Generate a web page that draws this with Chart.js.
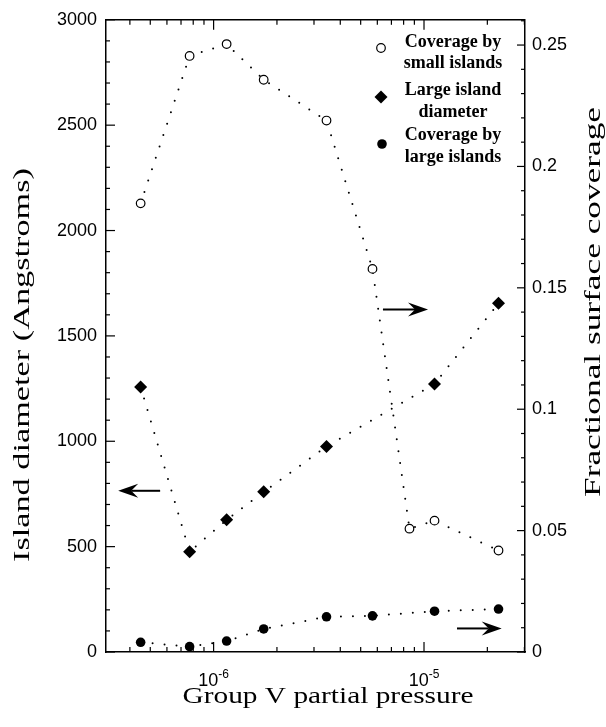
<!DOCTYPE html>
<html>
<head>
<meta charset="utf-8">
<title>Island size and coverage vs group V pressure</title>
<script src="https://cdn.jsdelivr.net/npm/chart.js@4.4.0/dist/chart.umd.min.js"></script>
<style>
  html, body { margin: 0; padding: 0; background: #fff; }
  #wrap { width: 606px; height: 727px; }
</style>
</head>
<body>
<div id="wrap"><canvas id="islandChart" width="606" height="727"></canvas></div>
<script>
// --- data ---
const pressureSmall = [4.50e-7, 7.69e-7, 1.153e-6, 1.73e-6, 3.44e-6, 5.69e-6, 8.53e-6, 1.122e-5, 2.26e-5];
const smallCoverage = [0.1848, 0.2455, 0.2504, 0.2357, 0.2189, 0.1578, 0.0508, 0.0541, 0.0418];

const pressureDiameter = [4.50e-7, 7.69e-7, 1.153e-6, 1.73e-6, 3.44e-6, 1.122e-5, 2.26e-5];
const largeDiameter = [1258, 476, 627, 760, 975, 1272, 1655];

const pressureLarge = [4.50e-7, 7.69e-7, 1.153e-6, 1.73e-6, 3.44e-6, 5.69e-6, 1.122e-5, 2.26e-5];
const largeCoverage = [0.0040, 0.0022, 0.0045, 0.0095, 0.0145, 0.0149, 0.0168, 0.0177];

// axis ranges and ticks
const pressureMin = 3.08e-7;
const pressureMax = 3.02e-5;
const decadeExponents = [-6, -5];
const diameterMax = 3000;
const diameterStep = 500;
const diameterMinor = 100;
const coverageMax = 0.2604;
const coverageStep = 0.05;
const coverageMinor = 0.01;

// arrows pointing at the axis each series belongs to: [x, y] tail -> tip
const axisArrows = [
  { axis: "y",  tail: [5.57e-7, 765],    tip: [3.52e-7, 765] },
  { axis: "y2", tail: [6.38e-6, 0.1411], tip: [1.045e-5, 0.1411] },
  { axis: "y2", tail: [1.435e-5, 0.0097], tip: [2.34e-5, 0.0097] }
];

const legendItems = [
  { symbol: "openCircle", lines: ["Coverage by", "small islands"] },
  { symbol: "diamond", lines: ["Large island", "diameter"] },
  { symbol: "dot", lines: ["Coverage by", "large islands"] }
];

const toPoints = (xs, ys) => xs.map((x, i) => ({ x: x, y: ys[i] }));

const dotted = {
  showLine: true,
  borderColor: "#000",
  borderWidth: 2,
  borderDash: [0, 12],
  borderCapStyle: "round",
  pointBorderColor: "#000",
  tension: 0
};

function line(ctx, x1, y1, x2, y2) {
  ctx.beginPath();
  ctx.moveTo(x1, y1);
  ctx.lineTo(x2, y2);
  ctx.stroke();
}

// text drawn at a given length (the original lettering is wider than our serif)
function stretchedText(ctx, text, x, y, length, rotate) {
  ctx.save();
  ctx.translate(x, y);
  if (rotate) ctx.rotate(-Math.PI / 2);
  const w = ctx.measureText(text).width;
  ctx.scale(length / w, 1);
  ctx.textAlign = "center";
  ctx.fillText(text, 0, 0);
  ctx.restore();
}

const framePlugin = {
  id: "frameDecor",
  afterDraw(chart) {
    const { ctx, chartArea: a, scales } = chart;
    ctx.save();
    ctx.strokeStyle = "#000";
    ctx.fillStyle = "#000";

    // top edge of the box
    ctx.lineWidth = 1.5;
    line(ctx, a.left, a.top, a.right, a.top);

    // inward tick marks
    ctx.lineWidth = 1.2;
    for (let v = 0; v <= diameterMax + 1e-9; v += diameterMinor) {
      const py = scales.y.getPixelForValue(v);
      const len = v % diameterStep === 0 ? 9 : 4;
      line(ctx, a.left, py, a.left + len, py);
    }
    const nCov = Math.floor(coverageMax / coverageMinor + 1e-6);
    for (let i = 0; i <= nCov; i++) {
      const py = scales.y2.getPixelForValue(i * coverageMinor);
      const len = i % Math.round(coverageStep / coverageMinor) === 0 ? 8 : 4;
      line(ctx, a.right - len, py, a.right, py);
    }
    for (let d = -7; d <= -5; d++) {
      for (let m = 1; m <= 9; m++) {
        const v = m * Math.pow(10, d);
        if (v < pressureMin || v > pressureMax) continue;
        const px = scales.x.getPixelForValue(v);
        const len = m === 1 ? 10 : 5;
        line(ctx, px, a.bottom, px, a.bottom - len);
        line(ctx, px, a.top, px, a.top + len);
      }
    }

    // decade labels 10^n
    decadeExponents.forEach(e => {
      const px = scales.x.getPixelForValue(Math.pow(10, e));
      ctx.font = "18px 'Liberation Sans', Arial, sans-serif";
      const base = "10";
      const wb = ctx.measureText(base).width;
      ctx.font = "12px 'Liberation Sans', Arial, sans-serif";
      const sup = String(e);
      const ws = ctx.measureText(sup).width;
      const x0 = px - (wb + ws) / 2;
      ctx.textAlign = "left";
      ctx.textBaseline = "alphabetic";
      ctx.font = "18px 'Liberation Sans', Arial, sans-serif";
      ctx.fillText(base, x0, 686);
      ctx.font = "12px 'Liberation Sans', Arial, sans-serif";
      ctx.fillText(sup, x0 + wb, 678);
    });

    // axis titles
    ctx.font = "24px 'Liberation Serif', 'Times New Roman', serif";
    ctx.textBaseline = "middle";
    stretchedText(ctx, "Island diameter (Angstroms)", 23, 365, 394, true);
    stretchedText(ctx, "Fractional surface coverage", 594, 302, 390, true);
    ctx.textBaseline = "alphabetic";
    stretchedText(ctx, "Group V partial pressure", 328, 703, 291, false);

    // legend
    const symX = 381, textX = 453;
    const baselines = [[47, 68], [95, 117], [140, 162]];
    const symY = [48, 97, 144];
    ctx.font = "bold 18px 'Liberation Serif', 'Times New Roman', serif";
    ctx.textAlign = "center";
    legendItems.forEach((item, i) => {
      const y = symY[i];
      ctx.lineWidth = 1.2;
      if (item.symbol === "openCircle") {
        ctx.beginPath(); ctx.arc(symX, y, 4.3, 0, Math.PI * 2);
        ctx.fillStyle = "#fff"; ctx.fill(); ctx.stroke();
      } else if (item.symbol === "diamond") {
        ctx.beginPath();
        ctx.moveTo(symX, y - 6.5); ctx.lineTo(symX + 6.5, y);
        ctx.lineTo(symX, y + 6.5); ctx.lineTo(symX - 6.5, y);
        ctx.closePath(); ctx.fillStyle = "#000"; ctx.fill();
      } else {
        ctx.beginPath(); ctx.arc(symX + 1, y, 4.8, 0, Math.PI * 2);
        ctx.fillStyle = "#000"; ctx.fill();
      }
      ctx.fillStyle = "#000";
      item.lines.forEach((t, j) => ctx.fillText(t, textX, baselines[i][j]));
    });

    // arrows
    axisArrows.forEach(ar => {
      const ys = scales[ar.axis];
      const tx = scales.x.getPixelForValue(ar.tail[0]), ty = ys.getPixelForValue(ar.tail[1]);
      const hx = scales.x.getPixelForValue(ar.tip[0]), hy = ys.getPixelForValue(ar.tip[1]);
      const ang = Math.atan2(hy - ty, hx - tx);
      const head = 20, half = 7, notch = 13;
      ctx.lineWidth = 2;
      line(ctx, tx, ty, hx - Math.cos(ang) * notch, hy - Math.sin(ang) * notch);
      ctx.save();
      ctx.translate(hx, hy);
      ctx.rotate(ang);
      ctx.beginPath();
      ctx.moveTo(0, 0);
      ctx.lineTo(-head, -half);
      ctx.lineTo(-notch, 0);
      ctx.lineTo(-head, half);
      ctx.closePath();
      ctx.fill();
      ctx.restore();
    });

    ctx.restore();
  }
};

new Chart(document.getElementById("islandChart"), {
  type: "line",
  data: {
    datasets: [
      Object.assign({}, dotted, {
        label: "Coverage by small islands",
        data: toPoints(pressureSmall, smallCoverage),
        yAxisID: "y2",
        pointStyle: "circle",
        pointRadius: 4.3,
        pointBorderWidth: 1.2,
        pointBackgroundColor: "#fff"
      }),
      Object.assign({}, dotted, {
        label: "Large island diameter",
        data: toPoints(pressureDiameter, largeDiameter),
        yAxisID: "y",
        pointStyle: "rectRot",
        pointRadius: 6.5,
        pointBorderWidth: 0,
        pointBackgroundColor: "#000"
      }),
      Object.assign({}, dotted, {
        label: "Coverage by large islands",
        data: toPoints(pressureLarge, largeCoverage),
        yAxisID: "y2",
        pointStyle: "circle",
        pointRadius: 4.8,
        pointBorderWidth: 0,
        pointBackgroundColor: "#000"
      })
    ]
  },
  options: {
    responsive: false,
    animation: false,
    devicePixelRatio: 1,
    layout: { padding: { top: 17, left: 0, right: 0, bottom: 0 } },
    plugins: {
      legend: { display: false },
      tooltip: { enabled: false }
    },
    scales: {
      x: {
        type: "logarithmic",
        min: pressureMin,
        max: pressureMax,
        grid: { display: false },
        border: { display: true, color: "#000", width: 1.5 },
        ticks: { display: false },
        afterFit: s => { s.height = 75; }
      },
      y: {
        position: "left",
        min: 0,
        max: diameterMax,
        grid: { display: false, drawTicks: false },
        border: { display: true, color: "#000", width: 1.5 },
        ticks: {
          stepSize: diameterStep,
          padding: 9,
          color: "#000",
          font: { family: "'Liberation Sans', Arial, sans-serif", size: 18 },
          callback: v => String(v)
        },
        afterFit: s => { s.width = 106; }
      },
      y2: {
        position: "right",
        min: 0,
        max: coverageMax,
        grid: { display: false, drawTicks: false },
        border: { display: true, color: "#000", width: 1.5 },
        ticks: {
          stepSize: coverageStep,
          includeBounds: false,
          padding: 7,
          color: "#000",
          font: { family: "'Liberation Sans', Arial, sans-serif", size: 18 },
          callback: v => String(parseFloat(v.toFixed(2)))
        },
        afterFit: s => { s.width = 81; }
      }
    }
  },
  plugins: [framePlugin]
});
</script>
</body>
</html>
